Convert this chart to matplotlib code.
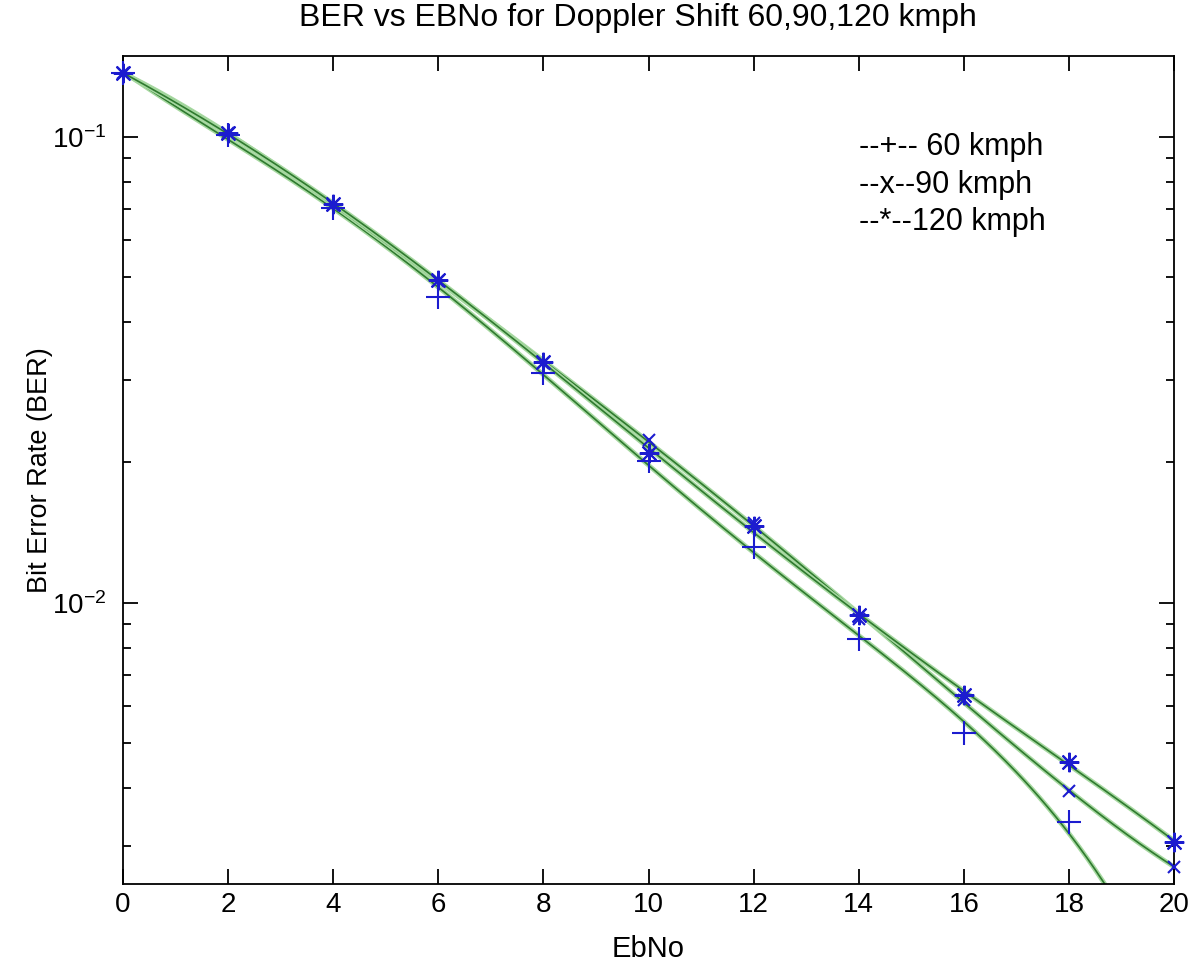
import numpy as np
import matplotlib
matplotlib.use("Agg")
import matplotlib.pyplot as plt
from matplotlib.ticker import LogLocator, NullFormatter, FixedLocator

# ---- data ----
ebno = [0, 2, 4, 6, 8, 10, 12, 14, 16, 18, 20]
ber_60 = [0.137, 0.101, 0.0705, 0.0454, 0.0312, 0.0201, 0.0132, 0.00834, 0.00526, 0.00339, 0.0013]
ber_90 = [0.137, 0.102, 0.0714, 0.0490, 0.0327, 0.0224, 0.0148, 0.00925, 0.00619, 0.00395, 0.00271]
ber_120 = [0.137, 0.102, 0.0716, 0.0493, 0.0329, 0.0210, 0.0146, 0.00939, 0.00634, 0.00456, 0.00307]
labels = ["--+-- 60 kmph", "--x--90 kmph", "--*--120 kmph"]
ytick_vals = [0.01, 0.1]
ytick_labels = [r"$\mathregular{10^{-2}}$", r"$\mathregular{10^{-1}}$"]
title = "BER vs EBNo for Doppler Shift 60,90,120 kmph"
xlabel = "EbNo"
ylabel = "Bit Error Rate (BER)"

plt.rcParams['font.family'] = ['Liberation Sans', 'DejaVu Sans']
plt.rcParams['mathtext.fontset'] = 'custom'
plt.rcParams['mathtext.rm'] = 'Liberation Sans'

fig = plt.figure(figsize=(11.92, 9.69), dpi=100)
ax = fig.add_axes([0.1032, 0.0877, 0.8818, 0.8543])

x = np.array(ebno, dtype=float)
xs = np.linspace(0, 20, 400)
mk_color = '#1c1ccf'
asterisk = (8, 2, 0)
marker_list = ['+', 'x', asterisk]
sizes = [17, 9, 14]
for ys in [ber_60, ber_90, ber_120]:
    ly = np.log10(np.array(ys))
    coef = np.polyfit(x, ly, 5)
    fit = 10 ** np.polyval(coef, xs)
    ax.plot(xs, fit, color='#a6d8a0', lw=3.4, zorder=2, solid_capstyle='round')
    ax.plot(xs, fit, color='#2f7a2f', lw=1.2, zorder=2)
for ys, mk, ms in zip([ber_60, ber_90, ber_120], marker_list, sizes):
    ax.plot(x, ys, linestyle='none', marker=mk, color=mk_color,
            markersize=ms, mew=1.5, zorder=3, clip_on=False)

ax.set_yscale('log')
ax.set_xlim(0, 20)
ax.set_ylim(0.00249, 0.149)
ax.set_xticks(range(0, 21, 2))
ax.yaxis.set_major_locator(FixedLocator(ytick_vals))
ax.set_yticklabels(ytick_labels)
ax.yaxis.set_minor_locator(LogLocator(base=10, subs=np.arange(2, 10)))
ax.yaxis.set_minor_formatter(NullFormatter())
ax.tick_params(which='both', direction='in', top=True, right=True, width=1.3)
ax.tick_params(axis='x', which='major', labelsize=20, length=11, pad=6)
ax.tick_params(axis='y', which='major', labelsize=20, length=11, pad=12)
ax.tick_params(which='minor', length=6)
for s in ax.spines.values():
    s.set_linewidth(1.3)

ax.set_title(title, fontsize=23, pad=22, x=0.49)
ax.set_xlabel(xlabel, fontsize=21, labelpad=12)
ax.set_ylabel(ylabel, fontsize=19.5, va='center')
ax.yaxis.set_label_coords(-0.079, 0.5)

for i, lab in enumerate(labels):
    ax.text(0.7, 0.89 - i * 0.045, lab, transform=ax.transAxes, fontsize=22, va='center', ha='left')

fig.savefig("out.png", dpi=100, facecolor='white')
